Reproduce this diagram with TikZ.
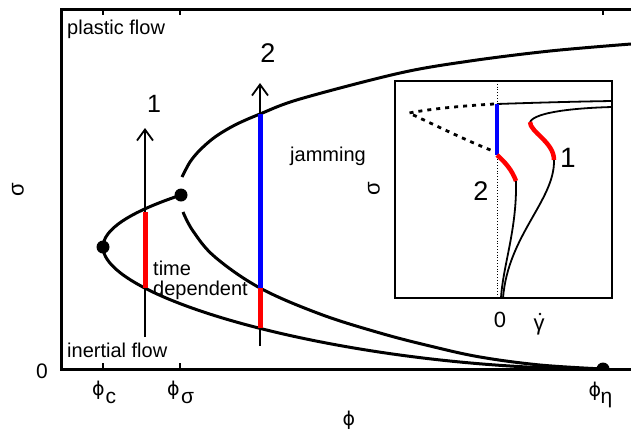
\documentclass[tikz,border=0pt]{standalone}
\usepackage{fontspec}
\setmainfont{Liberation Sans}
\newfontfamily\djv{DejaVu Sans}
\usetikzlibrary{arrows.meta}
\begin{document}
\begin{tikzpicture}[x=1pt,y=-1pt,
  curve/.style={line width=3pt},
  axisline/.style={line width=3pt},
  tick/.style={line width=1.5pt},
  pathred/.style={red,line width=5pt},
  pathblue/.style={blue,line width=5pt},
  probe/.style={line width=1.8pt,-{Straight Barb[length=11pt,width=16pt,line width=1.8pt]}},
  lbl/.style={inner sep=0pt,font=\fontsize{20}{20}\selectfont},
  dotnode/.style={fill=black,circle,inner sep=0pt,minimum size=13pt},
  thin/.style={line width=1.8pt},
  insred/.style={red,line width=4.5pt},
]
\useasboundingbox (0,0) rectangle (631,432);
% axes
\draw[axisline] (631,9) -- (61,9) -- (61,369) -- (631,369);
\foreach \x in {103,180,603} \draw[tick] (\x,9) -- (\x,15);
\foreach \x in {103,180} \draw[tick] (\x,369) -- (\x,363);
% curve A
\draw[curve] (181,195) .. controls (129,212.3) and (103,229.7) .. (103,247)
  .. controls (103,300) and (350,369) .. (603,369);
% curve B
\draw[curve] plot[smooth,tension=0.55] coordinates {(182,177) (190,162) (200,150) (215,137) (235,125) (260,114) (300,99) (400,73) (470,61) (550,51) (631,44)};
\draw[curve] plot[smooth,tension=0.6] coordinates {(183,212) (193,231) (215,257) (260,288) (320,314) (380,333) (430,346) (480,357) (540,365) (603,369)};
% dots
\node[dotnode] (d1) at (103,247) {};
\node[dotnode] (d2) at (181,195) {};
\begin{scope}
  \clip (585,340) rectangle (625,369);
  \fill (603,369) circle (6.5);
\end{scope}
% probes
\coordinate (p1s) at (145,337); \coordinate (p1e) at (145,128);
\draw[probe] (p1s) -- (p1e);
\draw[pathred] (145,212) -- (145,288);
\coordinate (p2s) at (260,346); \coordinate (p2e) at (260,83);
\draw[probe] (p2s) -- (p2e);
\draw[pathblue] (260,114) -- (260,288);
\draw[pathred] (260,288) -- (260,328);
% texts
\node[lbl,anchor=base west] (pf) at (67,34) {plastic flow};
\node[lbl,anchor=base west] (if) at (67,357) {inertial flow};
\node[lbl,anchor=base west] (jam) at (290,161) {jamming};
\node[lbl,anchor=base west] (td1) at (153,275) {time};
\node[lbl,anchor=base west] (td2) at (153,295) {dependent};
\node[inner sep=0pt,anchor=base,font=\fontsize{25}{25}\selectfont] (l1) at (154,112) {1};
\node[inner sep=0pt,anchor=base,font=\fontsize{27}{27}\selectfont] (l2) at (268,62) {2};
\node[inner sep=0pt,anchor=base,font=\fontsize{21}{21}\selectfont] (zero) at (42,378) {0};
\node[inner sep=0pt,rotate=90,font=\fontsize{22}{22}\selectfont] (sig) at (18,189.5) {σ};
% phi labels
\node[inner sep=0pt,font=\djv\fontsize{19}{19}\selectfont] (phc) at (98.5,390) {ϕ};
\node[inner sep=0pt,anchor=base west,font=\fontsize{21}{21}\selectfont] (phcs) at (105.5,403) {c};
\node[inner sep=0pt,font=\djv\fontsize{19}{19}\selectfont] (phs) at (173.5,390) {ϕ};
\node[inner sep=0pt,anchor=base west,font=\fontsize{21}{21}\selectfont] (phss) at (181,403) {σ};
\node[inner sep=0pt,font=\djv\fontsize{19}{19}\selectfont] (phe) at (595,391) {ϕ};
\node[inner sep=0pt,anchor=base west,font=\fontsize{21}{21}\selectfont] (phes) at (600.5,403) {η};
\node[inner sep=0pt,font=\djv\fontsize{19}{19}\selectfont] (phax) at (349,420) {ϕ};
% inset
\fill[white] (395,81) rectangle (612,298);
\draw[line width=0.8pt,dotted] (497,81) -- (497,298);
\draw[line width=2.8pt,dash pattern=on 4pt off 5pt] (494,104) .. controls (460,106) and (430,109) .. (409,113)
  .. controls (435,125) and (465,140) .. (493,151);
\draw[thin] (497,104) .. controls (540,102.5) and (580,101.5) .. (612,101);
\draw[blue,line width=4pt] (497,104) -- (497,155);
\draw[insred] (497,155) .. controls (505,162) and (512,170) .. (516,181);
\draw[thin] (516,181) .. controls (517,230) and (503,265) .. (501,298);
\draw[thin] (612,107) .. controls (575,108) and (535,112) .. (530,122);
\draw[insred] (530,122) .. controls (530,132) and (554,142) .. (554,160);
\draw[thin] (554,160) .. controls (555,200) and (508,235) .. (503,298);
\draw[line width=2.5pt] (395,81) rectangle (612,298);
\node[inner sep=0pt,anchor=base,font=\fontsize{28}{28}\selectfont] (i1) at (568,167) {1};
\node[inner sep=0pt,anchor=base,font=\fontsize{27}{27}\selectfont] (i2) at (481,200) {2};
\node[inner sep=0pt,anchor=base,font=\fontsize{22}{22}\selectfont] (i0) at (500,327) {0};
\node[inner sep=0pt,anchor=base,font=\fontsize{22}{22}\selectfont] (gam) at (539,330) {γ};
\fill (540,314) circle (1.4);
\node[inner sep=0pt,rotate=90,font=\fontsize{22}{22}\selectfont] (isig) at (374,189) {σ};
\end{tikzpicture}
\end{document}
